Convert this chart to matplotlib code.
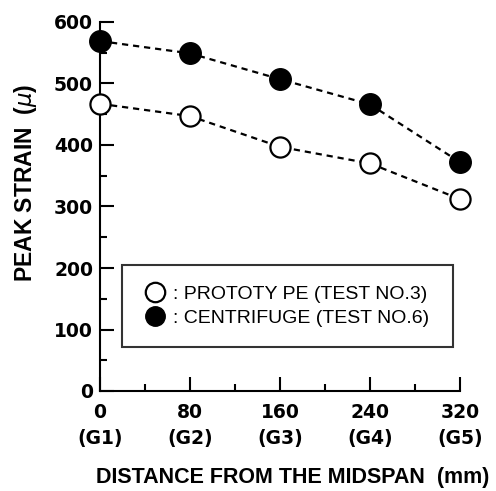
import matplotlib
matplotlib.use("Agg")
import matplotlib.pyplot as plt
from matplotlib.lines import Line2D

distance = [0, 80, 160, 240, 320]
tick_labels = ["0\n(G1)", "80\n(G2)", "160\n(G3)", "240\n(G4)", "320\n(G5)"]
prototype = [467, 447, 397, 370, 312]
centrifuge = [569, 549, 507, 466, 372]

fig = plt.figure(figsize=(4.96, 4.91), dpi=100)
ax = fig.add_axes([100 / 496, 1 - 391 / 491, 360 / 496, 369 / 491])

# dashed connecting lines
for vals in (prototype, centrifuge):
    ax.plot(distance, vals, color="black", lw=1.6, dashes=(2.8, 2.2), zorder=2)

ax.plot(distance, prototype, "o", ms=14.5, mfc="white", mec="black", mew=1.6,
        clip_on=False, zorder=3)
ax.plot(distance, centrifuge, "o", ms=15.5, mfc="black", mec="black",
        clip_on=False, zorder=3)

ax.set_xlim(0, 320)
ax.set_ylim(0, 600)
ax.spines["top"].set_visible(False)
ax.spines["right"].set_visible(False)
for s in ("left", "bottom"):
    ax.spines[s].set_linewidth(1.5)

ax.set_xticks(distance)
ax.set_xticklabels(tick_labels, fontfamily="DejaVu Sans", fontweight="bold",
                   fontsize=13.5, linespacing=1.45)
ax.set_xticks([40, 120, 200, 280], minor=True)
ax.set_yticks(range(0, 601, 100))
ax.set_yticklabels([str(v) for v in range(0, 601, 100)], fontfamily="DejaVu Sans",
                   fontweight="bold", fontsize=13.5)
ax.set_yticks(range(50, 600, 100), minor=True)
ax.tick_params(axis="both", which="major", direction="in", length=10, width=1.5)
ax.tick_params(axis="both", which="minor", direction="in", length=5, width=1.5)
ax.tick_params(axis="x", which="major", pad=9)
ax.tick_params(axis="y", which="major", pad=5)

ax.set_xlabel("DISTANCE FROM THE MIDSPAN  (mm)", fontfamily="Liberation Sans",
              fontweight="bold", fontsize=15.5)
ax.xaxis.set_label_coords(0.535, -0.205)
ax.set_ylabel("PEAK STRAIN  ($\\mu$)", fontfamily="Liberation Sans",
              fontweight="bold", fontsize=16.5)
ax.yaxis.set_label_coords(-0.17, 0.565)

handles = [
    Line2D([], [], ls="none", marker="o", ms=14, mfc="white", mec="black", mew=1.6),
    Line2D([], [], ls="none", marker="o", ms=14, mfc="black", mec="black"),
]
labels = [": PROTOTY PE (TEST NO.3)", ": CENTRIFUGE (TEST NO.6)"]
leg = ax.legend(handles, labels, loc="lower left", mode="expand",
                bbox_to_anchor=(22 / 360, (391 - 347) / 369, 331 / 360, 0.25),
                borderaxespad=0, borderpad=1.04, labelspacing=0.33,
                handlelength=1.34, handletextpad=0.25, fancybox=False,
                prop={"family": "Liberation Sans", "size": 14})
leg.get_frame().set_edgecolor("black")
leg.get_frame().set_linewidth(1.5)

fig.savefig("out.png", dpi=100)
